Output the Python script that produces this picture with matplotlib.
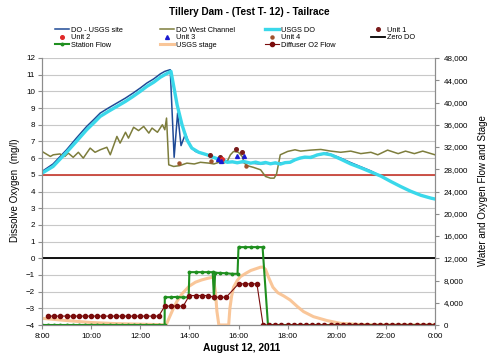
import numpy as np
import matplotlib
matplotlib.use("Agg")
import matplotlib.pyplot as plt
from matplotlib.ticker import FuncFormatter

plt.rcParams['font.family'] = ['Liberation Sans', 'DejaVu Sans']

# ---- data (hours of day) ----
do_site_t = [8.0, 8.45, 9.0, 9.4, 9.82, 10.1, 10.37, 10.7, 11.05, 11.4,
             11.71, 12.0, 12.27, 12.55, 12.82, 13.0, 13.22, 13.38, 13.52, 13.66,
             13.84, 14.04, 14.25, 14.58, 15.0, 15.4, 15.67, 16.08, 16.5, 16.9,
             17.2, 17.5, 17.8, 18.1, 18.4, 18.7, 19.0, 19.3, 19.6, 19.9,
             20.16, 20.57, 20.98, 21.39, 21.67, 22.0, 22.4, 22.8, 23.2, 23.6,
             24.0]
do_site = [5.2, 5.65, 6.5, 7.2, 7.9, 8.3, 8.7, 9.0, 9.3, 9.6,
           9.9, 10.2, 10.5, 10.75, 11.05, 11.2, 11.3, 6.05, 8.7, 6.75,
           7.45, 6.7, 6.4, 6.25, 6.05, 5.9, 5.75, 5.75, 5.7, 5.65,
           5.7, 5.68, 5.72, 5.75, 5.95, 6.05, 6.1, 6.2, 6.3, 6.15,
           6.0, 5.73, 5.48, 5.23, 5.02, 4.75, 4.45, 4.15, 3.9, 3.7,
           3.55]

west_t = [8.0, 8.34, 8.46, 8.73, 8.93, 9.07, 9.27, 9.48, 9.68, 9.96,
          10.16, 10.37, 10.64, 10.78, 11.05, 11.18, 11.4, 11.52, 11.73, 11.93,
          12.14, 12.35, 12.48, 12.7, 12.9, 13.0, 13.07, 13.16, 13.36, 13.6,
          13.9, 14.2, 14.45, 14.8, 15.0, 15.2, 15.4, 15.54, 15.67, 15.8,
          16.0, 16.15, 16.24, 16.35, 16.6, 16.9, 17.1, 17.3, 17.45, 17.55,
          17.7, 18.0, 18.3, 18.53, 18.94, 19.35, 19.76, 20.16, 20.57, 20.98,
          21.39, 21.67, 22.07, 22.5, 22.8, 23.16, 23.5, 23.84, 24.0]
west = [6.4, 6.1, 6.2, 6.25, 6.1, 6.3, 6.05, 6.35, 6.0, 6.6,
        6.35, 6.5, 6.65, 6.2, 7.3, 6.9, 7.55, 7.2, 7.85, 7.65,
        7.9, 7.5, 7.8, 7.55, 8.0, 7.7, 8.4, 5.6, 5.5, 5.55,
        5.7, 5.65, 5.75, 5.7, 5.65, 5.75, 5.7, 5.8, 6.2, 6.4,
        6.35, 6.1, 5.7, 5.55, 5.45, 5.3, 4.9, 4.8, 4.8, 5.05,
        6.2, 6.4, 6.5, 6.42, 6.48, 6.52, 6.42, 6.35, 6.42, 6.27,
        6.35, 6.2, 6.48, 6.27, 6.42, 6.27, 6.42, 6.27, 6.2]

usgs_do_t = [8.0, 8.45, 9.0, 9.4, 9.82, 10.1, 10.37, 10.7, 11.05, 11.4,
             11.71, 12.0, 12.27, 12.55, 12.82, 13.0, 13.25, 13.5, 13.7, 13.9,
             14.1, 14.38, 14.72, 15.06, 15.33, 15.54, 15.75, 15.95, 16.2, 16.5,
             16.7, 16.9, 17.1, 17.3, 17.5, 17.7, 17.9, 18.1, 18.3, 18.5,
             18.7, 18.95, 19.2, 19.48, 19.76, 20.16, 20.57, 20.98, 21.39, 21.8,
             22.2, 22.6, 23.0, 23.43, 23.84, 24.0]
usgs_do = [5.1, 5.5, 6.35, 7.0, 7.7, 8.1, 8.5, 8.8, 9.1, 9.4,
           9.7, 10.0, 10.3, 10.55, 10.85, 11.0, 11.2, 9.2, 8.0, 7.1,
           6.6, 6.35, 6.2, 6.0, 5.9, 5.75, 5.78, 5.72, 5.8, 5.7,
           5.76, 5.68, 5.74, 5.66, 5.72, 5.64, 5.73, 5.75, 5.9, 6.0,
           6.06, 6.04, 6.19, 6.27, 6.2, 5.94, 5.65, 5.42, 5.17, 4.92,
           4.6, 4.3, 4.02, 3.77, 3.6, 3.55]

unit1_t = [14.86, 15.24, 15.88, 16.15]
unit1 = [6.2, 6.05, 6.55, 6.35]
unit2_t = [15.33]
unit2 = [5.95]
unit3_t = [15.16, 15.27, 15.95, 16.24]
unit3 = [5.95, 5.85, 6.15, 6.15]
unit4_t = [13.56, 14.9, 16.29]
unit4 = [5.68, 5.8, 5.5]

station_t = [8.0, 8.25, 8.5, 8.75, 9.0, 9.25, 9.5, 9.75, 10.0, 10.25,
             10.5, 10.75, 11.0, 11.25, 11.5, 11.75, 12.0, 12.25, 12.5, 12.75,
             12.99, 13.0, 13.25, 13.5, 13.75, 13.97, 14.0, 14.25, 14.5, 14.75,
             14.95, 15.0, 15.05, 15.25, 15.5, 15.75, 15.96, 16.0, 16.25, 16.5,
             16.75, 16.98, 17.2, 17.5, 17.75, 18.0, 18.5, 19.0, 19.5, 20.0,
             20.5, 21.0, 21.5, 22.0, 22.5, 23.0, 23.5, 24.0]
station_flow = [0, 0, 0, 0, 0, 0, 0, 0, 0, 0,
                0, 0, 0, 0, 0, 0, 0, 0, 0, 0,
                0, 5000, 5000, 5050, 4950, 5000, 9500, 9500, 9500, 9500,
                9500, 4850, 9400, 9350, 9300, 9200, 9200, 14000, 14000, 14000,
                14000, 14000, 0, 0, 0, 0, 0, 0, 0, 0,
                0, 0, 0, 0, 0, 0, 0, 0]

stage_t = [8.0, 9.0, 10.0, 11.0, 12.0, 12.9, 13.05, 13.2, 13.35, 13.5,
           13.7, 14.0, 14.25, 14.5, 14.75, 14.97, 15.06, 15.12, 15.2, 15.6,
           15.65, 15.72, 15.8, 15.95, 16.08, 16.3, 16.5, 16.7, 16.9, 17.0,
           17.1, 17.24, 17.4, 17.6, 17.85, 18.1, 18.4, 18.65, 19.05, 19.6,
           20.15, 20.9, 21.5, 22.0, 24.0]
stage = [1200, 800, 450, 250, 150, 50, 0, 1500, 3000, 4300,
         5600, 7000, 7700, 8100, 8400, 8600, 6000, 2500, 0, 0,
         3000, 5200, 6800, 8000, 8700, 9300, 9800, 10100, 10400, 10400,
         10000, 8400, 6800, 5800, 5200, 4500, 3300, 2400, 1500, 800,
         300, 100, 20, 0, 0]

diffuser_t = list(np.arange(8.25, 15.6, 0.25)) + list(np.arange(16.0, 24.01, 0.25))
diffuser = [1600, 1600, 1600, 1600, 1600, 1600, 1600, 1600, 1600, 1600,
            1600, 1600, 1600, 1600, 1600, 1600, 1600, 1600, 1600,
            3400, 3400, 3400, 3400,
            5300, 5300, 5300, 5300,
            5000, 5000, 5000,
            7400, 7400, 7400, 7400,
            0, 0, 0, 0, 0, 0, 0, 0, 0, 0, 0, 0, 0, 0, 0, 0, 0, 0, 0, 0,
            0, 0, 0, 0, 0, 0, 0, 0, 0]

x_ticks = [8, 10, 12, 14, 16, 18, 20, 22, 24]
x_labels = ['8:00', '10:00', '12:00', '14:00', '16:00', '18:00', '20:00', '22:00', '0:00']

W, H = 498, 362
fig = plt.figure(figsize=(W / 100, H / 100), dpi=100)
ax = fig.add_axes([42 / W, 1 - 325 / H, (435 - 42) / W, (325 - 58) / H])
ax2 = ax.twinx()

# primary axis: dissolved oxygen
ax.axhline(5, color='#c9453b', lw=1.3, zorder=2)
h_site, = ax.plot(do_site_t, do_site, color='#1f4a96', lw=1.1, label='DO - USGS site', zorder=3)
h_west, = ax.plot(west_t, west, color='#7d7d3c', lw=1.1, label='DO West Channel', zorder=3)
h_usgs, = ax.plot(usgs_do_t, usgs_do, color='#3ad8ea', lw=2.4, label='USGS DO', zorder=3)
h_u1, = ax.plot(unit1_t, unit1, 'o', color='#7a1c1c', ms=2.6, label='Unit 1', zorder=4)
h_u2, = ax.plot(unit2_t, unit2, 'o', color='#e02828', ms=2.6, label='Unit 2', zorder=4)
h_u3, = ax.plot(unit3_t, unit3, '^', color='#1a1ad0', ms=2.8, label='Unit 3', zorder=4)
h_u4, = ax.plot(unit4_t, unit4, 'o', color='#a0522d', ms=2.2, label='Unit 4', zorder=4)
h_zero = ax.axhline(0, color='black', lw=1.3, label='Zero DO', zorder=3)

ax.set_xlim(8, 24)
ax.set_ylim(-4, 12)
ax.set_yticks(range(-4, 13))
ax.set_xticks(x_ticks)
ax.set_xticklabels(x_labels)
ax.yaxis.grid(True, color='#c8c8c8', lw=0.8)
ax.set_axisbelow(True)

# secondary axis: flows and stage
h_stage, = ax2.plot(stage_t, stage, color='#f9c08e', lw=2.2, alpha=0.9, label='USGS stage')
h_station, = ax2.plot(station_t, station_flow, color='#1f8f1f', lw=1.5, marker='o', ms=1.8,
                      label='Station Flow')
h_diff, = ax2.plot(diffuser_t, diffuser, color='#7a0c0c', lw=0.8, marker='o', ms=3.0,
                   label='Diffuser O2 Flow')
ax2.set_ylim(0, 48000)
ax2.set_yticks(range(0, 48001, 4000))
ax2.yaxis.set_major_formatter(FuncFormatter(lambda v, p: f'{v:,.0f}'))

for a in (ax, ax2):
    for s in a.spines.values():
        s.set_color('#8c8c8c')
        s.set_linewidth(0.8)
    a.spines['top'].set_visible(False)
ax.tick_params(axis='y', length=3, color='#8c8c8c', labelsize=5.8, pad=2)
ax.tick_params(axis='x', length=3, color='#8c8c8c', labelsize=5.8, pad=3)
ax2.tick_params(axis='y', length=3, color='#8c8c8c', labelsize=5.8, pad=3)

# legend: four columns of equal width like the original
columns = [
    (55, [h_site, h_u2, h_station]),
    (160, [h_west, h_u3, h_stage]),
    (265, [h_usgs, h_u4, h_diff]),
    (371, [h_u1, h_zero]),
]
for x0, hs in columns:
    fig.legend(hs, [h.get_label() for h in hs], loc='upper left',
               bbox_to_anchor=(x0 / W, 1 - 26.5 / H), bbox_transform=fig.transFigure,
               frameon=False, fontsize=5.3, handlelength=1.85, handletextpad=0.3,
               borderpad=0, borderaxespad=0, labelspacing=0.05, numpoints=1)

fig.text(249.5 / W, 1 - 12 / H, 'Tillery Dam - (Test T- 12) - Tailrace',
         ha='center', va='center', fontsize=7.2, fontweight='bold')
fig.text(242 / W, 1 - 348 / H, 'August 12, 2011', ha='center', va='center',
         fontsize=7.4, fontweight='bold')
fig.text(15 / W, 1 - 190 / H, 'Dissolve Oxygen  (mg/l)', rotation=90,
         ha='center', va='center', fontsize=7.0)
fig.text(483 / W, 1 - 191 / H, 'Water and Oxygen Flow and Stage', rotation=90,
         ha='center', va='center', fontsize=7.0)

fig.savefig('out.png', dpi=100)
